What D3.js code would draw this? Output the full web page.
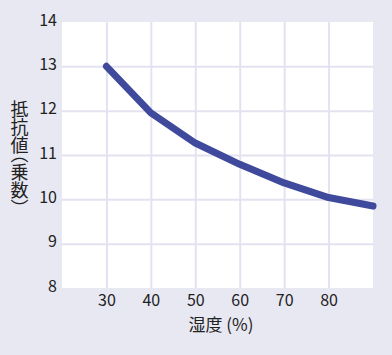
<!DOCTYPE html>
<html><head><meta charset="utf-8">
<script src="https://cdn.jsdelivr.net/npm/d3@7"></script>
<style>
html,body{margin:0;padding:0;background:#e8e8f3;}
svg{display:block;}
</style></head><body>
<svg id="c" width="392" height="355"></svg>
<script>
const humidity = [30, 40, 50, 60, 70, 80, 90];
const resistance = [13.0, 11.95, 11.27, 10.79, 10.37, 10.04, 9.85];
const xTicks = [30, 40, 50, 60, 70, 80];
const yTicks = [8, 9, 10, 11, 12, 13, 14];
const xLabel = "湿度 (%)";
const yLabel = "抵抗値（乗数）";

const FONT = "'Noto Sans CJK JP','Noto Sans',sans-serif";
const svg = d3.select("#c").attr("font-family", FONT);
svg.append("rect").attr("width",392).attr("height",355).attr("fill","#e8e8f3");
const m = {l:62, t:22, r:373, b:288};
const x = d3.scaleLinear().domain([20,90]).range([m.l,m.r]);
const y = d3.scaleLinear().domain([8,14]).range([m.b,m.t]);

svg.append("rect").attr("x",m.l).attr("y",m.t).attr("width",m.r-m.l).attr("height",m.b-m.t).attr("fill","#ffffff");

const gx = svg.append("g").attr("transform",`translate(0,${m.b})`)
  .call(d3.axisBottom(x).tickValues(xTicks).tickFormat(d3.format("d")).tickSize(-(m.b-m.t)).tickPadding(7))
  .attr("font-family", FONT);
gx.select(".domain").remove();
gx.selectAll("line").attr("stroke","#e3e2f0").attr("stroke-width",2);
gx.selectAll("text").attr("font-size",16).attr("fill","#222").attr("dy","0.71em");

const gy = svg.append("g").attr("transform",`translate(${m.l},0)`)
  .call(d3.axisLeft(y).tickValues(yTicks).tickFormat(d3.format("d")).tickSize(-(m.r-m.l)).tickPadding(5))
  .attr("font-family", FONT);
gy.select(".domain").remove();
gy.selectAll("line").attr("stroke","#e3e2f0").attr("stroke-width",2)
  .attr("display",d=>(d===8||d===14)?"none":null);
gy.selectAll("text").attr("font-size",16).attr("fill","#222").attr("dy","0.2em");

const line = d3.line().x((d,i)=>x(humidity[i])).y(d=>y(d));
svg.append("path").datum(resistance).attr("d",line)
  .attr("fill","none").attr("stroke","#3f4a9c").attr("stroke-width",7)
  .attr("stroke-linecap","round").attr("stroke-linejoin","round");

svg.append("text").attr("x",221).attr("y",331).attr("text-anchor","middle")
  .attr("font-size",17).attr("fill","#222").text(xLabel);

svg.append("text").attr("x",19.5).attr("y",100)
  .attr("font-size",18).attr("fill","#222")
  .style("writing-mode","vertical-rl")
  .style("font-feature-settings","'vhal' 1")
  .text(yLabel);
</script>
</body></html>
